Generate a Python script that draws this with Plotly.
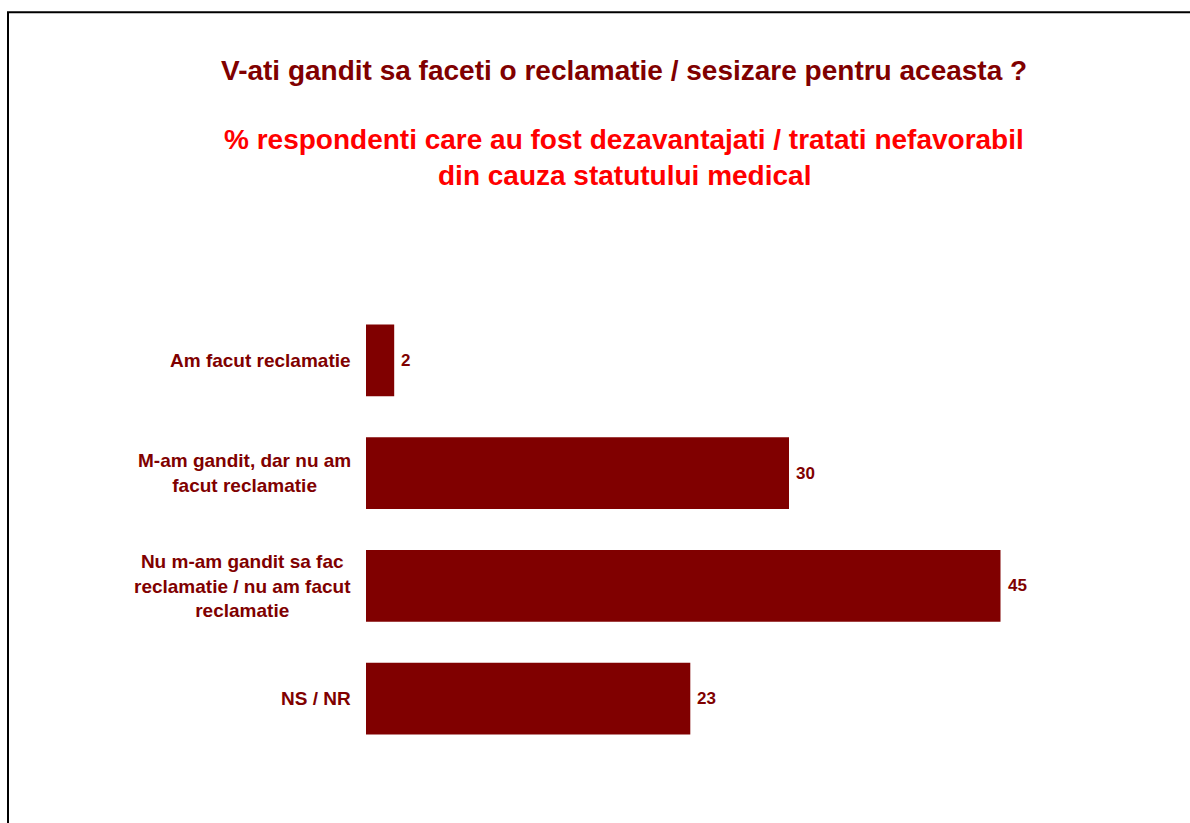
import plotly.graph_objects as go

# Survey answers and shares (%)
categories = [
    "Am facut reclamatie",
    "M-am gandit, dar nu am<br>facut reclamatie",
    "Nu m-am gandit sa fac<br>reclamatie / nu am facut<br>reclamatie",
    "NS / NR",
]
values = [2, 30, 45, 23]

title_text = "V-ati gandit sa faceti o reclamatie / sesizare pentru aceasta ?"
subtitle_lines = [
    "% respondenti care au fost dezavantajati / tratati nefavorabil",
    "din cauza statutului medical",
]

DARK_RED = "#800000"
RED = "#FF0000"
FONT = "Arial, Liberation Sans, sans-serif"

W, H = 1190, 823
M_L, M_R, M_T, M_B = 366, 119, 303.5, 67.5
plot_w = W - M_L - M_R
plot_h = H - M_T - M_B


def px_x(px):
    return (px - M_L) / plot_w


def px_y(py):
    return (H - M_B - py) / plot_h


fig = go.Figure(
    go.Bar(
        x=values,
        y=categories,
        orientation="h",
        marker=dict(color=DARK_RED, line=dict(width=0)),
        width=0.637,
        cliponaxis=False,
        hoverinfo="skip",
    )
)

annotations = []
# category labels, centred lines, right-aligned block next to the bars
for cat in categories:
    annotations.append(
        dict(
            x=0, xref="paper", y=cat, yref="y",
            text=cat, showarrow=False,
            xanchor="right", yanchor="middle", xshift=-13,
            align="center",
            font=dict(family=FONT, size=19, color=DARK_RED, weight="bold"),
        )
    )

# value labels just past the end of each bar
for cat, v in zip(categories, values):
    annotations.append(
        dict(
            x=v, xref="x", y=cat, yref="y",
            text=str(v), showarrow=False,
            xanchor="left", yanchor="middle", xshift=5,
            font=dict(family=FONT, size=17, color=DARK_RED, weight="bold"),
        )
    )

# main question
annotations.append(
    dict(
        x=px_x(624), xref="paper", y=px_y(69), yref="paper",
        text=title_text, showarrow=False,
        xanchor="center", yanchor="middle",
        font=dict(family=FONT, size=28, color=DARK_RED, weight="bold"),
    )
)
# base description, two lines
for line, py in zip(subtitle_lines, [139, 175]):
    annotations.append(
        dict(
            x=px_x(624), xref="paper", y=px_y(py), yref="paper",
            text=line, showarrow=False,
            xanchor="center", yanchor="middle",
            font=dict(family=FONT, size=28, color=RED, weight="bold"),
        )
    )

# outer frame (extends past right and bottom edges of the page)
shapes = [
    dict(
        type="rect", xref="paper", yref="paper",
        x0=px_x(8), x1=px_x(W + 20), y0=px_y(H + 20), y1=px_y(11),
        line=dict(color="black", width=2), fillcolor="rgba(0,0,0,0)",
        layer="above",
    )
]

fig.update_layout(
    width=W, height=H,
    margin=dict(l=M_L, r=M_R, t=M_T, b=M_B, pad=0),
    paper_bgcolor="white", plot_bgcolor="white",
    showlegend=False,
    xaxis=dict(range=[0, 50], visible=False, fixedrange=True),
    yaxis=dict(
        categoryorder="array", categoryarray=categories,
        range=[3.5, -0.5], showticklabels=False, showgrid=False,
        zeroline=False, showline=False, ticks="", fixedrange=True,
    ),
    annotations=annotations,
    shapes=shapes,
)

fig.write_html("out.html")
